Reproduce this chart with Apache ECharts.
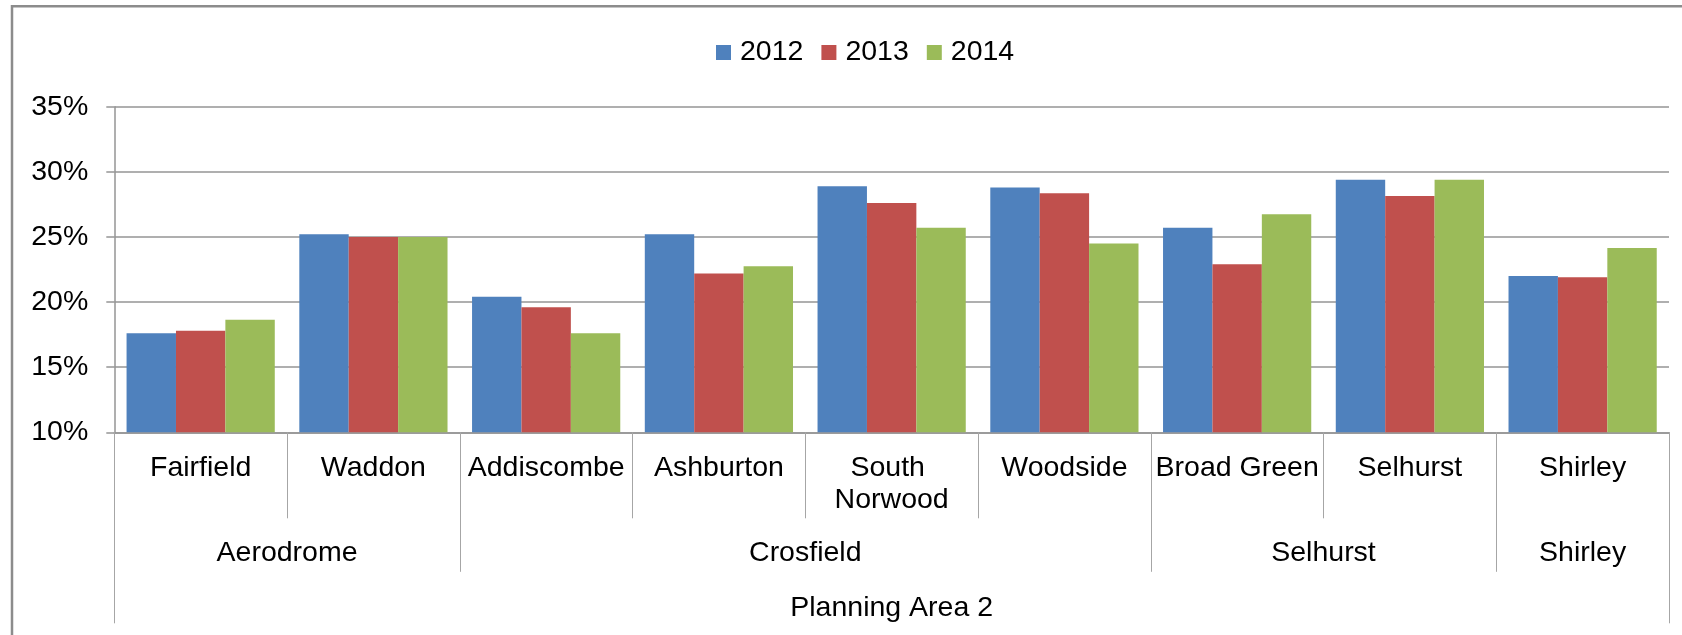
<!DOCTYPE html>
<html>
<head>
<meta charset="utf-8">
<style>
  html, body { margin: 0; padding: 0; background: #ffffff; }
  #chart { width: 1682px; height: 635px; }
</style>
<script src="https://cdn.jsdelivr.net/npm/echarts@6/dist/echarts.min.js"></script>
</head>
<body>
<div id="chart"></div>
<script>
// ---- data ----
const wards = ['Fairfield', 'Waddon', 'Addiscombe', 'Ashburton', 'South Norwood', 'Woodside', 'Broad Green', 'Selhurst', 'Shirley'];
const groups = ['Aerodrome', 'Crosfield', 'Selhurst', 'Shirley'];
const groupSizes = [2, 4, 2, 1];
const topLevel = 'Planning Area 2';
const seriesNames = ['2012', '2013', '2014'];
const values2012 = [17.6, 25.2, 20.4, 25.2, 28.9, 28.8, 25.7, 29.4, 22.0];
const values2013 = [17.8, 25.0, 19.6, 22.2, 27.6, 28.35, 22.9, 28.15, 21.9];
const values2014 = [18.65, 25.0, 17.6, 22.75, 25.7, 24.5, 26.75, 29.4, 24.15];
const yTicks = [10, 15, 20, 25, 30, 35];

// ---- derived group boundaries / centers ----
const groupBounds = [0];
groupSizes.forEach(s => groupBounds.push(groupBounds[groupBounds.length - 1] + s));
const groupCenters = groups.map((g, i) => (groupBounds[i] + groupBounds[i + 1]) / 2);
const innerGroupBounds = groupBounds.slice(1, -1);
const total = wards.length;

const FONT = "'Liberation Sans', Arial, sans-serif";
const FS = 28.5;
const colors = ['#4F81BD', '#C0504D', '#9BBB59'];
const sepColor = '#a6a6a6';

const chart = echarts.init(document.getElementById('chart'), null, { renderer: 'canvas' });

const option = {
  animation: false,
  backgroundColor: '#ffffff',
  textStyle: { fontFamily: FONT, color: '#000' },
  graphic: [{
    type: 'rect',
    z: -1,
    shape: { x: 12, y: 6.2, width: 1720, height: 700 },
    style: { fill: 'none', stroke: '#8c8c8c', lineWidth: 2.5 }
  }],
  legend: {
    data: seriesNames,
    left: 711,
    top: 33,
    itemWidth: 15,
    itemHeight: 15,
    itemGap: 18,
    icon: 'rect',
    textStyle: { fontFamily: FONT, fontSize: FS, color: '#000', padding: [0, 0, 0, 4] }
  },
  grid: { left: 114.3, right: 13, top: 106.7, bottom: 202.7, containLabel: false },
  xAxis: [
    {
      type: 'category',
      data: wards,
      position: 'bottom',
      axisLine: { show: true, lineStyle: { color: '#959595', width: 1.5 } },
      axisTick: { show: true, length: 86, lineStyle: { color: sepColor, width: 1 } },
      axisLabel: {
        fontFamily: FONT, fontSize: FS, color: '#000',
        margin: 20, lineHeight: 32, interval: 0,
        width: 172, overflow: 'break'
      },
      splitLine: { show: false }
    },
    {
      type: 'value',
      min: 0, max: total,
      position: 'bottom',
      axisLine: { show: false },
      splitLine: { show: false },
      axisTick: { show: true, length: 139.5, customValues: innerGroupBounds, lineStyle: { color: sepColor, width: 1 } },
      axisLabel: {
        fontFamily: FONT, fontSize: FS, color: '#000',
        margin: 104.7, lineHeight: 32,
        customValues: groupCenters,
        formatter: function (v) {
          const i = groupCenters.findIndex(c => Math.abs(c - v) < 1e-6);
          return i >= 0 ? groups[i] : '';
        }
      }
    },
    {
      type: 'value',
      min: 0, max: total,
      position: 'bottom',
      axisLine: { show: false },
      splitLine: { show: false },
      axisTick: { show: true, length: 191, customValues: [0, total], lineStyle: { color: sepColor, width: 1 } },
      axisLabel: {
        fontFamily: FONT, fontSize: FS, color: '#000',
        margin: 159.7, lineHeight: 32,
        customValues: [total / 2],
        formatter: function () { return topLevel; }
      }
    }
  ],
  yAxis: {
    type: 'value',
    min: yTicks[0],
    max: yTicks[yTicks.length - 1],
    interval: yTicks[1] - yTicks[0],
    axisLine: { show: true, lineStyle: { color: '#959595', width: 1.5 } },
    axisTick: { show: true, length: 8, inside: false, lineStyle: { color: '#959595', width: 1.5 } },
    axisLabel: { fontFamily: FONT, fontSize: FS, color: '#000', margin: 26, formatter: '{value}%' },
    splitLine: { show: true, lineStyle: { color: '#959595', width: 1.5 } }
  },
  series: [values2012, values2013, values2014].map((vals, i) => ({
    name: seriesNames[i],
    type: 'bar',
    xAxisIndex: 0,
    yAxisIndex: 0,
    data: vals,
    barGap: '0%',
    barCategoryGap: '14.2%',
    itemStyle: { color: colors[i] }
  }))
};

chart.setOption(option);
</script>
</body>
</html>
